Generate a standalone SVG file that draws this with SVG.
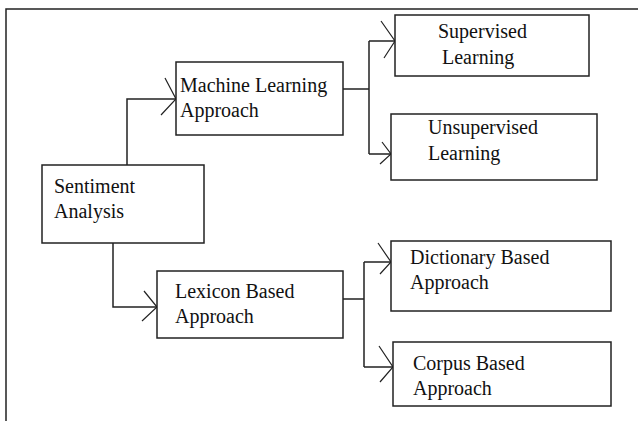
<svg xmlns="http://www.w3.org/2000/svg" width="638" height="421" viewBox="0 0 638 421">
<style>
.box{fill:#fff;stroke:#222;stroke-width:1.5}
.t{font-family:"Liberation Serif","Times New Roman",serif;font-size:20px;fill:#111}
.c{fill:none;stroke:#222;stroke-width:1.5}
.ah{fill:none;stroke:#222;stroke-width:1.2}
</style>
<rect width="638" height="421" fill="#fff"/>
<path class="c" d="M6,421 V9 H638"/>
<g id="connectors">
<path class="c" d="M127,165 V99 H176"/>
<path class="ah" d="M165,78 L176,99 L161,115"/>
<path class="c" d="M113,243 V307 H157"/>
<path class="ah" d="M144,291 L157,307 L142,321"/>
<path class="c" d="M343,89 H369 M369,41 V154 M369,41 H395 M369,154 H391"/>
<path class="ah" d="M381,21 L395,41 L384,58"/>
<path class="ah" d="M382,142 L391,154 L380,164"/>
<path class="c" d="M343,299 H364 M364,262 V367 M364,262 H391 M364,367 H393"/>
<path class="ah" d="M378,243 L391,262 L380,274"/>
<path class="ah" d="M379,346 L393,367 L380,382"/>
</g>
<g id="sentiment">
<rect class="box" x="42" y="165" width="162" height="78"/>
<text class="t" x="54" y="193">Sentiment</text>
<text class="t" x="54" y="218">Analysis</text>
</g>
<g id="machine">
<rect class="box" x="176" y="62" width="167" height="73"/>
<text class="t" x="180" y="92">Machine Learning</text>
<text class="t" x="180" y="117">Approach</text>
</g>
<g id="supervised">
<rect class="box" x="395" y="15" width="194" height="61"/>
<text class="t" x="438" y="38">Supervised</text>
<text class="t" x="442" y="64">Learning</text>
</g>
<g id="unsupervised">
<rect class="box" x="391" y="114" width="206" height="66"/>
<text class="t" x="428" y="134">Unsupervised</text>
<text class="t" x="428" y="160">Learning</text>
</g>
<g id="lexicon">
<rect class="box" x="157" y="271" width="186" height="67"/>
<text class="t" x="175" y="298">Lexicon Based</text>
<text class="t" x="175" y="323">Approach</text>
</g>
<g id="dictionary">
<rect class="box" x="391" y="241" width="220" height="70"/>
<text class="t" x="410" y="264">Dictionary Based</text>
<text class="t" x="410" y="289">Approach</text>
</g>
<g id="corpus">
<rect class="box" x="393" y="342" width="218" height="64"/>
<text class="t" x="413" y="370">Corpus Based</text>
<text class="t" x="413" y="395">Approach</text>
</g>
</svg>
